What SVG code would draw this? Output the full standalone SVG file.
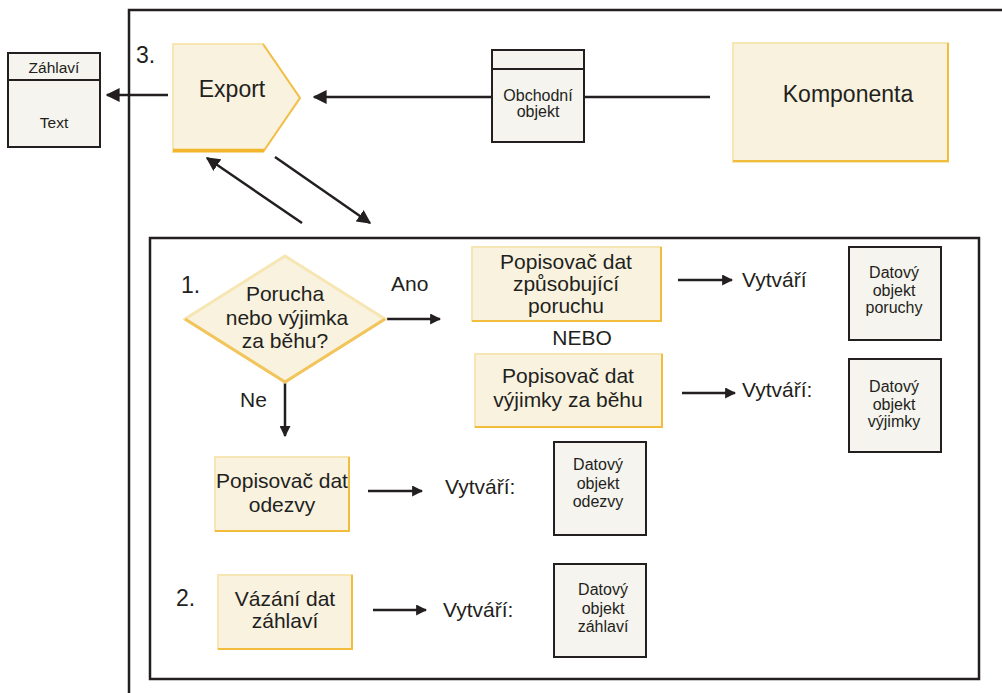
<svg xmlns="http://www.w3.org/2000/svg" width="1002" height="693" viewBox="0 0 1002 693">
<defs>
<marker id="ah" viewBox="0 0 10 10" refX="9" refY="5" markerWidth="11" markerHeight="11" markerUnits="userSpaceOnUse" orient="auto">
<path d="M0,0 L10,5 L0,10 z" fill="#231f20"/>
</marker>
<marker id="ahb" viewBox="0 0 10 10" refX="9" refY="5" markerWidth="14" markerHeight="14" markerUnits="userSpaceOnUse" orient="auto">
<path d="M0,0 L10,5 L0,10 z" fill="#231f20"/>
</marker>
</defs>
<style>
text{font-family:"Liberation Sans",Arial,sans-serif;fill:#231f20}
.y{fill:#f8f2df;stroke:#f6e6b4;stroke-width:2}
.yd{fill:none;stroke:#f2bd3c;stroke-width:2}
.d{fill:#f6f4ee;stroke:#231f20;stroke-width:2}
.c{stroke:#231f20;stroke-width:2.5;fill:none}
.t21{font-size:21px;text-anchor:middle}
.t16{font-size:16px;text-anchor:middle}
.n{font-size:23px}
.v{font-size:21px}
</style>
<rect width="1002" height="693" fill="#ffffff"/>
<g id="frame">
<path d="M129,693 V10 H1002" fill="none" stroke="#231f20" stroke-width="2.5"/>
<rect x="150" y="238" width="829" height="441" fill="none" stroke="#231f20" stroke-width="2.5"/>
</g>
<g id="connectors">
<line class="c" x1="168" y1="95" x2="107" y2="95" marker-end="url(#ahb)"/>
<line class="c" x1="710" y1="97" x2="584" y2="97"/>
<line class="c" x1="492" y1="97" x2="314" y2="97" marker-end="url(#ahb)"/>
<line class="c" x1="302" y1="223" x2="207" y2="158" marker-end="url(#ahb)"/>
<line class="c" x1="275" y1="157" x2="370" y2="223" marker-end="url(#ahb)"/>
<line class="c" x1="387" y1="319" x2="440" y2="319" marker-end="url(#ah)"/>
<line class="c" x1="285" y1="382" x2="285" y2="436" marker-end="url(#ah)"/>
<line class="c" x1="678" y1="280" x2="732" y2="280" marker-end="url(#ah)"/>
<line class="c" x1="682" y1="393" x2="735" y2="393" marker-end="url(#ah)"/>
<line class="c" x1="368" y1="491" x2="422" y2="491" marker-end="url(#ah)"/>
<line class="c" x1="373" y1="610" x2="426" y2="610" marker-end="url(#ah)"/>
</g>
<g id="zahlavi">
<rect class="d" x="8" y="53" width="92" height="94"/>
<line x1="8" y1="80" x2="100" y2="80" stroke="#231f20" stroke-width="2"/>
<text x="54" y="73" font-size="15.5" text-anchor="middle">Záhlaví</text>
<text x="54" y="128" font-size="15.5" text-anchor="middle">Text</text>
</g>
<g id="label3"><text class="n" x="136" y="63">3.</text></g>
<g id="export">
<path d="M173,44 H263 L300,98 L263,152 H173 Z" fill="#f8f2df" stroke="#f6e6b4" stroke-width="2"/>
<path d="M263,44 L300,98 L263,152" fill="none" stroke="#f2c04a" stroke-width="2"/>
<line x1="173" y1="150.5" x2="264" y2="150.5" stroke="#f2b52c" stroke-width="3.5"/>
<text class="n" x="232" y="97" text-anchor="middle">Export</text>
</g>
<g id="obchodni">
<rect class="d" x="492" y="50" width="92" height="92"/>
<line x1="492" y1="69" x2="584" y2="69" stroke="#231f20" stroke-width="2"/>
<text class="t16" x="538" y="101">Obchodní</text>
<text class="t16" x="538" y="117">objekt</text>
</g>
<g id="komponenta">
<rect class="y" x="733" y="43" width="215" height="119"/>
<path class="yd" d="M948,43 V161 H733"/>
<text class="n" x="848" y="102" text-anchor="middle">Komponenta</text>
</g>
<g id="label1"><text class="n" x="181" y="293">1.</text></g>
<g id="decision">
<path d="M185,319 L285,256 L385,319 L285,382 Z" fill="#f8f2df" stroke="#f6e6b4" stroke-width="3"/>
<path d="M385,319 L285,382 L185,319" fill="none" stroke="#f2c55c" stroke-width="3"/>
<text class="t21" x="285" y="301">Porucha</text>
<text class="t21" x="287" y="325">nebo výjimka</text>
<text class="t21" x="285" y="348">za běhu?</text>
</g>
<g id="ano"><text class="v" x="391" y="291">Ano</text></g>
<g id="ne"><text class="v" x="240" y="407">Ne</text></g>
<g id="popis-poruchu">
<rect class="y" x="472" y="247" width="189" height="74"/>
<path class="yd" d="M661,247 V321 H472"/>
<text class="t21" x="566" y="269">Popisovač dat</text>
<text class="t21" x="566" y="291">způsobující</text>
<text class="t21" x="566" y="313">poruchu</text>
</g>
<g id="nebo"><text class="t21" x="582" y="345">NEBO</text></g>
<g id="popis-vyjimky">
<rect class="y" x="475" y="354" width="187" height="73"/>
<path class="yd" d="M662,354 V427 H475"/>
<text class="t21" x="568" y="383">Popisovač dat</text>
<text class="t21" x="568" y="407">výjimky za běhu</text>
</g>
<g id="vytvari1"><text class="v" x="742" y="287">Vytváří</text></g>
<g id="vytvari2"><text class="v" x="742" y="397">Vytváří:</text></g>
<g id="do-poruchy">
<rect class="d" x="849" y="247" width="92" height="93"/>
<text class="t16" x="894" y="278">Datový</text>
<text class="t16" x="894" y="296">objekt</text>
<text class="t16" x="894" y="313">poruchy</text>
</g>
<g id="do-vyjimky">
<rect class="d" x="849" y="359" width="92" height="93"/>
<text class="t16" x="894" y="392">Datový</text>
<text class="t16" x="894" y="410">objekt</text>
<text class="t16" x="894" y="427">výjimky</text>
</g>
<g id="popis-odezvy">
<rect class="y" x="215" y="457" width="134" height="74"/>
<path class="yd" d="M349,457 V531 H215"/>
<text class="t21" x="282" y="488">Popisovač dat</text>
<text class="t21" x="282" y="512">odezvy</text>
</g>
<g id="vytvari3"><text class="v" x="445" y="494">Vytváří:</text></g>
<g id="do-odezvy">
<rect class="d" x="554" y="442" width="92" height="93"/>
<text class="t16" x="598" y="470">Datový</text>
<text class="t16" x="598" y="489">objekt</text>
<text class="t16" x="598" y="507">odezvy</text>
</g>
<g id="label2"><text class="n" x="176" y="606">2.</text></g>
<g id="vazani">
<rect class="y" x="218" y="575" width="134" height="74"/>
<path class="yd" d="M352,575 V649 H218"/>
<text class="t21" x="285" y="606">Vázání dat</text>
<text class="t21" x="285" y="628">záhlaví</text>
</g>
<g id="vytvari4"><text class="v" x="443" y="617">Vytváří:</text></g>
<g id="do-zahlavi">
<rect class="d" x="554" y="564" width="92" height="93"/>
<text class="t16" x="603" y="595">Datový</text>
<text class="t16" x="603" y="614">objekt</text>
<text class="t16" x="603" y="632">záhlaví</text>
</g>
</svg>
